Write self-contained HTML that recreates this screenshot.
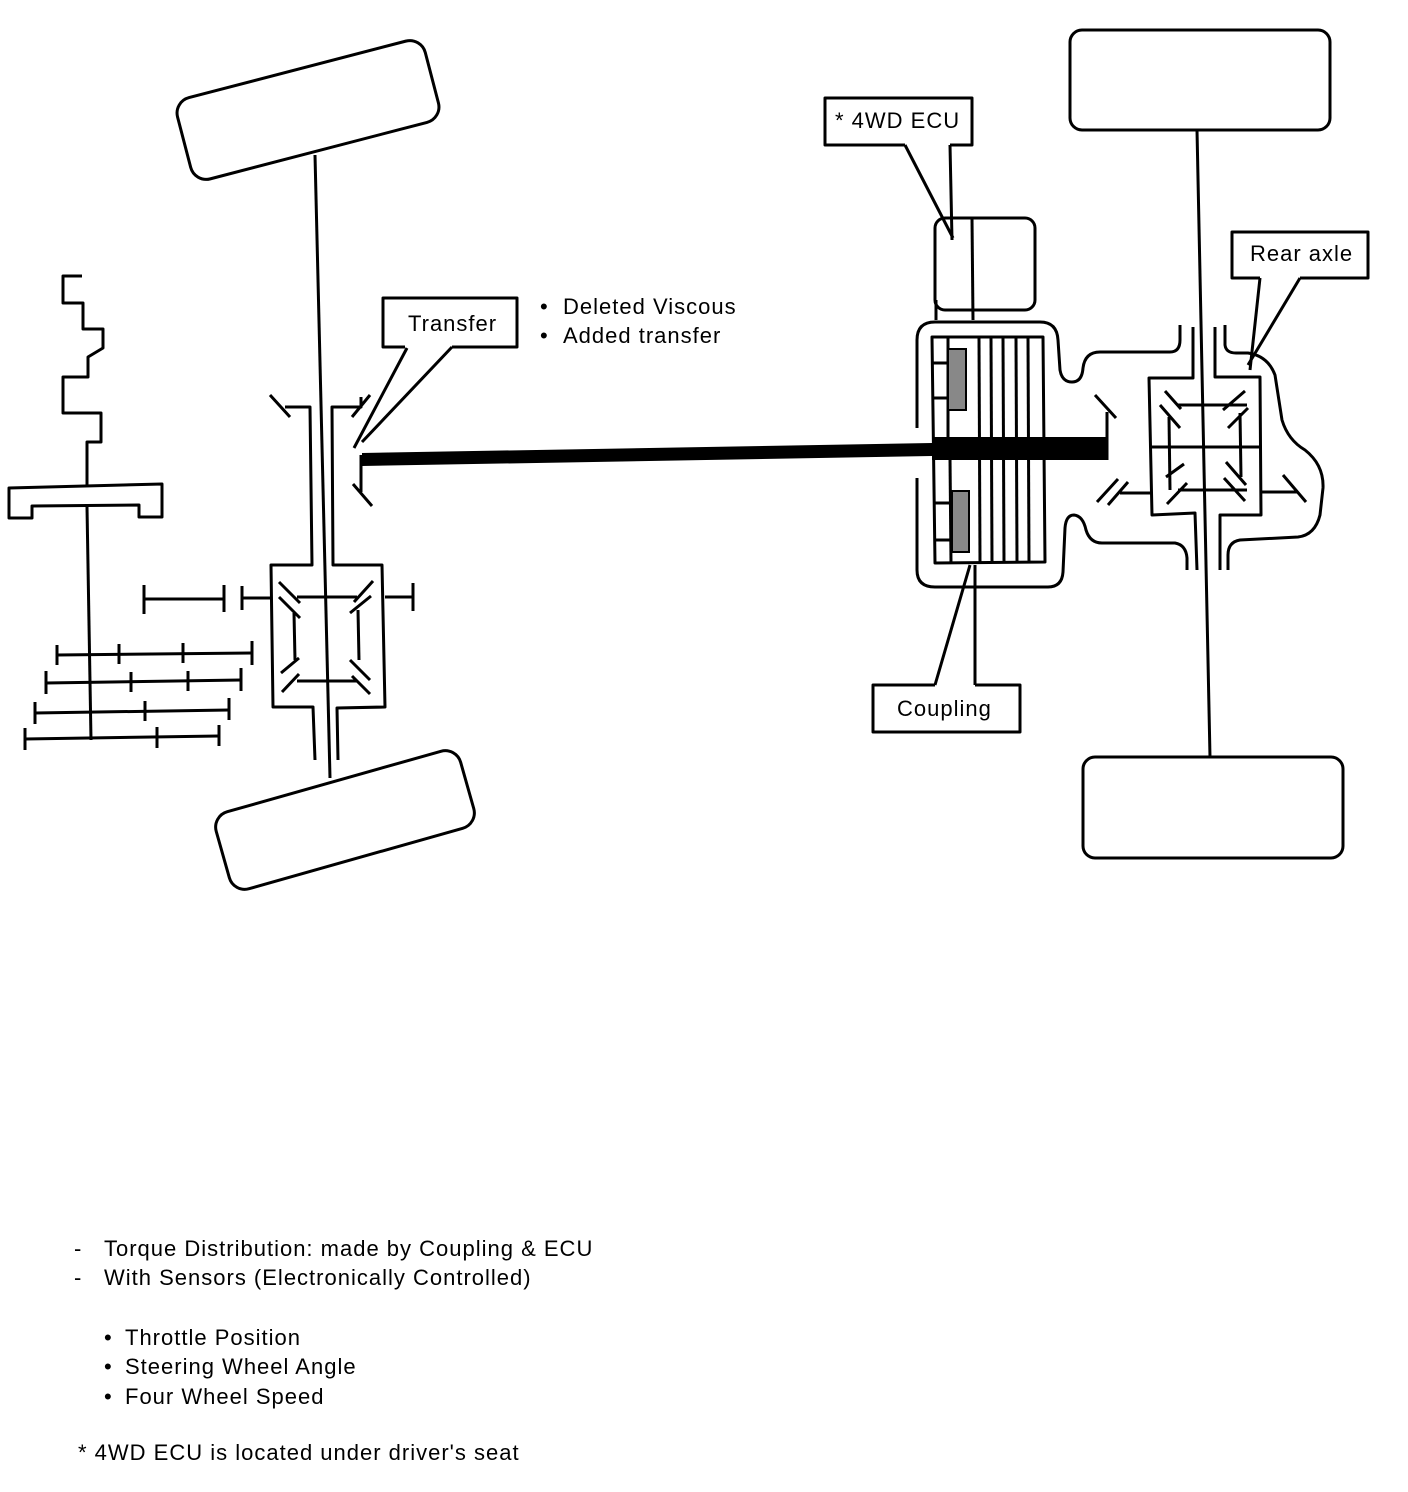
<!DOCTYPE html>
<html><head><meta charset="utf-8"><style>
html,body{margin:0;padding:0;background:#fff;}
svg{display:block;}
text{font-family:"Liberation Sans",Arial,sans-serif;font-size:22px;fill:#000;letter-spacing:1px;}
</style></head><body>
<svg width="1408" height="1492" viewBox="0 0 1408 1492" xmlns="http://www.w3.org/2000/svg">
<g fill="none" stroke="#000" stroke-width="3" stroke-linejoin="round">
<rect x="-128" y="-42" width="256" height="84" rx="16" transform="translate(308,110) rotate(-14.6)"/>
<rect x="-127" y="-40" width="254" height="80" rx="16" transform="translate(345,820) rotate(-15.8)"/>
<rect x="1070" y="30" width="260" height="100" rx="12"/>
<rect x="1083" y="757" width="260" height="101" rx="12"/>
<line x1="315" y1="155" x2="330" y2="778"/>
<line x1="1197" y1="130" x2="1210" y2="757"/>

<polyline points="82,276 63,276 63,303 83,303 83,329 103,329 103,348 88,357 88,377 63,377 63,413 101,413 101,442 87,442 87,487"/>
<polygon points="9,488 162,484 162,517 139,517 139,505 32,506 32,518 9,518"/>
<line x1="87" y1="507" x2="91" y2="740"/>
<line x1="57" y1="655" x2="252" y2="653"/>
<line x1="57" y1="645" x2="57" y2="665"/><line x1="119" y1="644" x2="119" y2="664"/><line x1="183" y1="643" x2="183" y2="663"/><line x1="252" y1="641" x2="252" y2="665"/>
<line x1="46" y1="683" x2="241" y2="680"/>
<line x1="46" y1="671" x2="46" y2="694"/><line x1="131" y1="672" x2="131" y2="692"/><line x1="188" y1="671" x2="188" y2="691"/><line x1="241" y1="668" x2="241" y2="691"/>
<line x1="35" y1="713" x2="229" y2="710"/>
<line x1="35" y1="702" x2="35" y2="724"/><line x1="145" y1="701" x2="145" y2="721"/><line x1="229" y1="698" x2="229" y2="720"/>
<line x1="25" y1="739" x2="219" y2="736"/>
<line x1="25" y1="728" x2="25" y2="750"/><line x1="157" y1="727" x2="157" y2="748"/><line x1="219" y1="725" x2="219" y2="746"/>
<line x1="144" y1="599" x2="224" y2="599"/>
<line x1="144" y1="585" x2="144" y2="614"/><line x1="224" y1="585" x2="224" y2="612"/><line x1="242" y1="586" x2="242" y2="610"/>
<line x1="242" y1="598" x2="271" y2="598"/>
<polyline points="285,407 310,407 312,565 271,565 273,707 313,707 315,760"/>
<polyline points="361,397 361,407 332,407 333,565 382,565 385,707 337,708 338,760"/>
<line x1="270" y1="395" x2="290" y2="417"/>
<line x1="352" y1="417" x2="370" y2="395"/>
<line x1="361" y1="455" x2="361" y2="492"/>
<line x1="353" y1="484" x2="372" y2="506"/>
<line x1="385" y1="597" x2="413" y2="597"/><line x1="413" y1="583" x2="413" y2="611"/>
<line x1="297" y1="597" x2="357" y2="597"/>
<line x1="297" y1="681" x2="357" y2="681"/>
<line x1="294" y1="613" x2="295" y2="660"/>
<line x1="358" y1="610" x2="359" y2="660"/>
<line x1="279" y1="582" x2="300" y2="603"/><line x1="279" y1="597" x2="300" y2="618"/>
<line x1="354" y1="602" x2="373" y2="581"/><line x1="350" y1="613" x2="371" y2="596"/>
<line x1="281" y1="673" x2="299" y2="658"/><line x1="282" y1="692" x2="299" y2="674"/>
<line x1="350" y1="660" x2="370" y2="680"/><line x1="352" y1="676" x2="370" y2="694"/>

<rect x="935" y="218" width="100" height="92" rx="10"/>
<line x1="972" y1="218" x2="973" y2="320"/>
<line x1="936" y1="300" x2="936" y2="320"/>
<path d="M917,428 L917,340 Q917,322 935,322 L1040,322 Q1057,322 1058,340 L1060,370 Q1062,382 1072,382 Q1082,382 1083,368 Q1085,352 1100,352 L1170,352 Q1180,352 1180,340 L1180,325"/>
<path d="M917,478 L917,570 Q917,587 935,587 L1048,587 Q1062,587 1063,572 L1065,528 Q1066,515 1074,515 Q1083,516 1086,530 Q1090,543 1102,543 L1175,543 Q1186,545 1187,558 L1187,570"/>
<polygon points="932,337 1043,337 1045,562 935,563"/>
<line x1="979" y1="337" x2="980" y2="562"/><line x1="991" y1="337" x2="992" y2="562"/><line x1="1003" y1="337" x2="1004" y2="562"/><line x1="1016" y1="337" x2="1017" y2="562"/><line x1="1028" y1="337" x2="1029" y2="562"/>
<line x1="948" y1="337" x2="948" y2="437"/><line x1="950" y1="458" x2="951" y2="563"/>
<line x1="932" y1="363" x2="948" y2="363"/><line x1="932" y1="398" x2="948" y2="398"/>
<line x1="935" y1="503" x2="952" y2="503"/><line x1="935" y1="540" x2="952" y2="540"/>
<line x1="1107" y1="412" x2="1107" y2="460"/>
<line x1="1095" y1="395" x2="1116" y2="418"/>
<line x1="1097" y1="502" x2="1118" y2="479"/><line x1="1108" y1="505" x2="1128" y2="482"/>
<line x1="1120" y1="493" x2="1152" y2="493"/>
<polyline points="1193,327 1193,378 1149,378 1152,515 1195,513 1197,570"/>
<polyline points="1215,327 1215,377 1260,377 1261,515 1220,515 1220,570"/>
<path d="M1225,325 L1225,345 Q1226,353 1236,353 L1248,353 Q1268,356 1275,375 L1282,420 Q1288,440 1305,450 Q1324,465 1323,488 L1320,515 Q1315,535 1298,537 L1240,540 Q1228,542 1228,555 L1228,570"/>
<line x1="1178" y1="405" x2="1247" y2="405"/>
<line x1="1152" y1="447" x2="1260" y2="447"/>
<line x1="1178" y1="490" x2="1247" y2="490"/>
<line x1="1169" y1="417" x2="1170" y2="490"/>
<line x1="1240" y1="413" x2="1241" y2="477"/>
<line x1="1165" y1="391" x2="1181" y2="409"/><line x1="1160" y1="405" x2="1180" y2="428"/>
<line x1="1223" y1="410" x2="1245" y2="391"/><line x1="1228" y1="428" x2="1248" y2="408"/>
<line x1="1166" y1="477" x2="1184" y2="464"/><line x1="1167" y1="504" x2="1187" y2="483"/>
<line x1="1226" y1="462" x2="1246" y2="485"/><line x1="1224" y1="478" x2="1245" y2="501"/>
<line x1="1262" y1="492" x2="1297" y2="492"/><line x1="1283" y1="475" x2="1306" y2="502"/>

<polyline points="405,347 383,347 383,298 517,298 517,347 452,347"/>
<line x1="407" y1="348" x2="354" y2="448"/>
<line x1="452" y1="347" x2="362" y2="442"/>
<polyline points="905,145 825,145 825,98 972,98 972,145 950,145"/>
<line x1="905" y1="145" x2="953" y2="238"/>
<line x1="950" y1="145" x2="952" y2="240"/>
<polyline points="1260,278 1232,278 1232,232 1368,232 1368,278 1300,278"/>
<line x1="1260" y1="278" x2="1250" y2="370"/>
<line x1="1300" y1="278" x2="1248" y2="365"/>
<polyline points="935,685 873,685 873,732 1020,732 1020,685 975,685"/>
<line x1="935" y1="685" x2="970" y2="565"/>
<line x1="975" y1="685" x2="975" y2="565"/>
</g>
<rect x="948" y="349" width="18" height="61" fill="#888" stroke="#000" stroke-width="2"/>
<rect x="952" y="491" width="17" height="61" fill="#888" stroke="#000" stroke-width="2"/>
<polygon points="362,453 932,443 932,437 1107,437 1107,460 932,460 932,456 362,466" fill="#000"/>

<text x="408" y="331">Transfer</text>
<text x="835" y="128">* 4WD ECU</text>
<text x="1250" y="261">Rear axle</text>
<text x="897" y="716">Coupling</text>
<text x="540" y="314">•</text><text x="563" y="314">Deleted Viscous</text>
<text x="540" y="343">•</text><text x="563" y="343">Added transfer</text>

<text x="74" y="1256">-</text><text x="104" y="1256">Torque Distribution: made by Coupling &amp; ECU</text>
<text x="74" y="1285">-</text><text x="104" y="1285">With Sensors (Electronically Controlled)</text>
<text x="104" y="1345">•</text><text x="125" y="1345">Throttle Position</text>
<text x="104" y="1374">•</text><text x="125" y="1374">Steering Wheel Angle</text>
<text x="104" y="1404">•</text><text x="125" y="1404">Four Wheel Speed</text>
<text x="78" y="1460">* 4WD ECU is located under driver's seat</text>
</svg>
</body></html>
